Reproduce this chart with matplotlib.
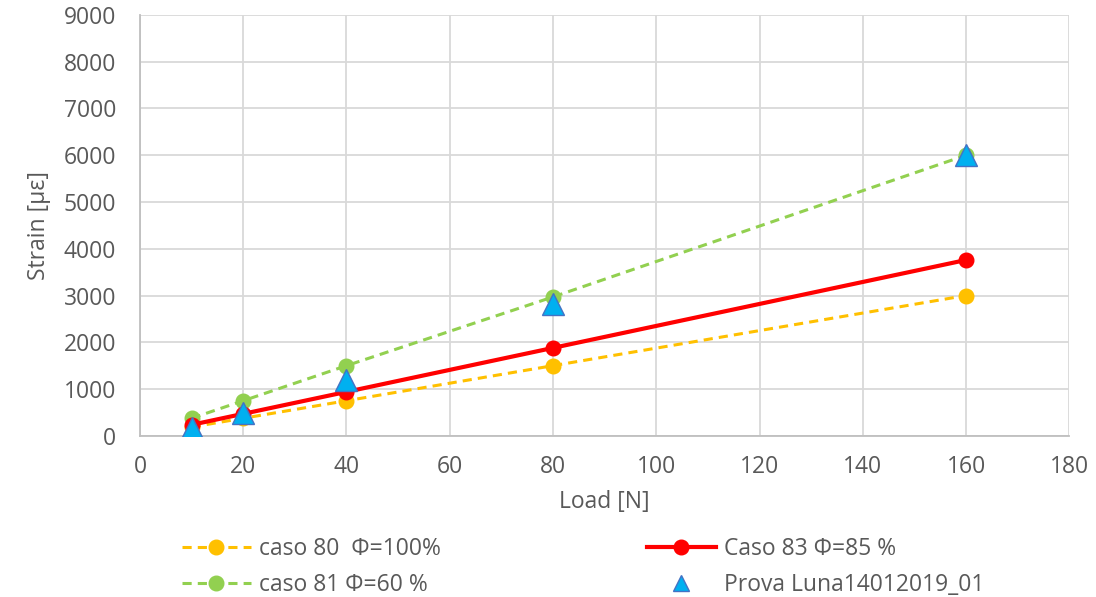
import matplotlib.pyplot as plt
from matplotlib.lines import Line2D

plt.rcParams['font.family'] = ['Open Sans', 'DejaVu Sans']

load = [10, 20, 40, 80, 160]
caso80 = [187, 375, 750, 1500, 3000]
caso83 = [235, 470, 940, 1880, 3760]
caso81 = [375, 750, 1500, 2970, 6000]
prova = [170, 480, 1190, 2820, 6010]

txt = '#595959'
fs = 16.5
fig = plt.figure(figsize=(10.96, 5.97), dpi=100)
ax = fig.add_axes([0.1277, 0.270, 0.848, 0.705])

l80, = ax.plot(load, caso80, '--o', color='#FFC000', lw=2.2, ms=10.5, dashes=(3, 2),
               label='caso 80  Φ=100%', zorder=3)
l81, = ax.plot(load, caso81, '--o', color='#92D050', lw=2.2, ms=10.5, dashes=(3, 2),
               label='caso 81 Φ=60 %', zorder=3)
l83, = ax.plot(load, caso83, '-o', color='#FF0000', lw=3, ms=10.5,
               label='Caso 83 Φ=85 %', zorder=4)
ax.plot(load, prova, '^', color='#00B0F0', mec='#4472C4', mew=1, ms=16.5, zorder=5)
# smaller triangle for the legend entry
lp = Line2D([], [], ls='none', marker='^', color='#00B0F0', mec='#4472C4', mew=1,
            ms=12, label='Prova Luna14012019_01')

ax.set_xlim(0, 180)
ax.set_ylim(0, 9000)
ax.set_xticks(range(0, 181, 20))
ax.set_yticks(range(0, 9001, 1000))
ax.grid(True, color='#d9d9d9', lw=1.3)
ax.set_axisbelow(True)
for s in ['top', 'right']:
    ax.spines[s].set_visible(False)
for s in ['left', 'bottom']:
    ax.spines[s].set_color('#bfbfbf')
    ax.spines[s].set_linewidth(1.3)
ax.tick_params(axis='y', length=0, labelsize=fs, colors=txt, pad=17)
ax.tick_params(axis='x', length=0, labelsize=fs, colors=txt, pad=14)
ax.set_xlabel('Load [N]', fontsize=fs, color=txt, labelpad=8)
ax.set_ylabel('Strain [µε]', fontsize=fs, color=txt, labelpad=9)

fig.legend(handles=[l80, l81, l83, lp], ncol=2, frameon=False,
           loc='upper left', bbox_to_anchor=(0.166, 0.101),
           borderpad=0, borderaxespad=0,
           fontsize=fs, labelcolor=txt, handlelength=3.0, columnspacing=9.0,
           labelspacing=0.55, handletextpad=0.35)

fig.savefig('out.png', dpi=100)
